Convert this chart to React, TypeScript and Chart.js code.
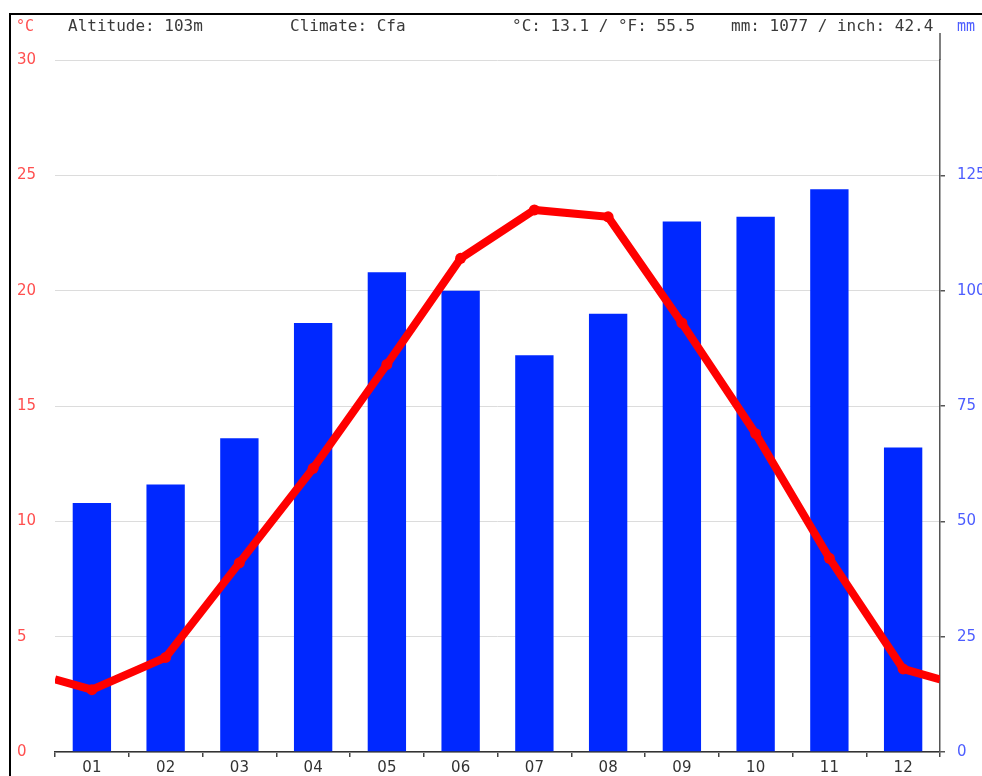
import React, { useEffect, useRef } from "react";
import { Chart, registerables } from "chart.js";

Chart.register(...registerables);

const months = ["01", "02", "03", "04", "05", "06", "07", "08", "09", "10", "11", "12"];
const tempC = [2.7, 4.1, 8.2, 12.3, 16.8, 21.4, 23.5, 23.2, 18.6, 13.8, 8.4, 3.6];
const precipMm = [54, 58, 68, 93, 104, 100, 86, 95, 115, 116, 122, 66];
const headerTexts = [
  { text: "Altitude: 103m", x: 68 },
  { text: "Climate: Cfa", x: 290 },
  { text: "°C: 13.1 / °F: 55.5", x: 512 },
  { text: "mm: 1077 / inch: 42.4", x: 731 },
];

const RED_TICK = "#ff4f4f";
const BLUE_TICK = "#4d5dff";
const MONO = "'DejaVu Sans Mono', monospace";
const SANS = "'DejaVu Sans', sans-serif";

export default function App() {
  const ref = useRef<HTMLCanvasElement | null>(null);

  useEffect(() => {
    const canvas = ref.current;
    if (!canvas) return;
    const edge = (tempC[0] + tempC[tempC.length - 1]) / 2;
    const lineData = [
      { x: -0.5, y: edge },
      ...tempC.map((v, i) => ({ x: i, y: v })),
      { x: months.length - 0.5, y: edge },
    ];
    const radii = lineData.map((_, i) => (i === 0 || i === lineData.length - 1 ? 0 : 5.5));

    const decor = {
      id: "decor",
      beforeDraw(chart: any) {
        const ctx = chart.ctx;
        ctx.save();
        ctx.fillStyle = "#ffffff";
        ctx.fillRect(0, 0, chart.width, chart.height);
        ctx.restore();
      },
      afterDraw(chart: any) {
        const ctx = chart.ctx;
        const area = chart.chartArea;
        ctx.save();
        ctx.fillStyle = "#000";
        ctx.fillRect(9, 13, 2, chart.height - 13);
        ctx.fillRect(9, 13, chart.width - 9, 2);
        ctx.strokeStyle = "#555";
        ctx.lineWidth = 1.5;
        ctx.beginPath();
        ctx.moveTo(area.right, 33);
        ctx.lineTo(area.right, area.top);
        ctx.stroke();
        ctx.textBaseline = "middle";
        ctx.textAlign = "left";
        ctx.font = `16px ${MONO}`;
        ctx.fillStyle = "#3a3a3a";
        headerTexts.forEach((h) => ctx.fillText(h.text, h.x, 27));
        ctx.font = `15px ${MONO}`;
        ctx.fillStyle = RED_TICK;
        ctx.fillText("°C", 16, 27);
        ctx.fillStyle = BLUE_TICK;
        ctx.fillText("mm", 957, 27);
        ctx.restore();
      },
    };

    const chart = new Chart(canvas, {
      type: "bar",
      data: {
        labels: months,
        datasets: [
          {
            type: "line",
            data: lineData as any,
            xAxisID: "x2",
            yAxisID: "y",
            borderColor: "#ff0000",
            backgroundColor: "#ff0000",
            borderWidth: 8,
            pointRadius: radii,
            pointBackgroundColor: "#ff0000",
            pointBorderColor: "#ff0000",
            pointBorderWidth: 0,
            tension: 0,
            order: 0,
          } as any,
          {
            type: "bar",
            data: precipMm,
            xAxisID: "x",
            yAxisID: "y1",
            backgroundColor: "#0028ff",
            borderWidth: 0,
            grouped: false,
            categoryPercentage: 1,
            barPercentage: 0.52,
            order: 1,
          } as any,
        ],
      },
      options: {
        animation: false,
        responsive: false,
        maintainAspectRatio: false,
        layout: { padding: { left: 17, right: 0, top: 60, bottom: 0 } },
        plugins: { legend: { display: false }, tooltip: { enabled: false } },
        scales: {
          x: {
            type: "category",
            position: "bottom",
            offset: true,
            grid: {
              display: true,
              drawOnChartArea: false,
              offset: true,
              tickLength: 5,
              color: "#444",
              lineWidth: 1.5,
            },
            border: { display: true, color: "#333", width: 1.5 },
            ticks: { color: "#333", font: { family: SANS, size: 15 }, padding: 2, maxRotation: 0 },
            afterFit: (s: any) => {
              s.height = 24;
            },
          },
          x2: {
            type: "linear",
            display: false,
            offset: false,
            grid: { offset: false },
            min: -0.5,
            max: months.length - 0.5,
          },
          y: {
            type: "linear",
            position: "left",
            min: 0,
            max: 30,
            grid: { color: "#dcdcdc", lineWidth: 1, drawTicks: false },
            border: { display: false },
            ticks: {
              stepSize: 5,
              color: RED_TICK,
              crossAlign: "far",
              padding: 0,
              font: { family: SANS, size: 15 },
            },
            afterFit: (s: any) => {
              s.width = 38;
            },
          },
          y1: {
            type: "linear",
            position: "right",
            min: 0,
            max: 150,
            grid: {
              drawOnChartArea: false,
              tickLength: 5,
              color: (c: any) => (c.tick && c.tick.value >= 150 ? "rgba(0,0,0,0)" : "#555"),
              lineWidth: 1.5,
            },
            border: { display: true, color: "#555", width: 1.5 },
            ticks: {
              stepSize: 25,
              color: BLUE_TICK,
              padding: 12,
              font: { family: SANS, size: 15 },
              callback: (v: any) => (Number(v) >= 150 ? "" : String(v)),
            },
            afterFit: (s: any) => {
              s.width = 42;
            },
          },
        },
      },
      plugins: [decor],
    });
    return () => chart.destroy();
  }, []);

  return (
    <div style={{ position: "fixed", left: 0, top: 0, width: 982, height: 776, overflow: "hidden" }}>
      <canvas ref={ref} width={982} height={776} style={{ display: "block", width: 982, height: 776 }} />
    </div>
  );
}
